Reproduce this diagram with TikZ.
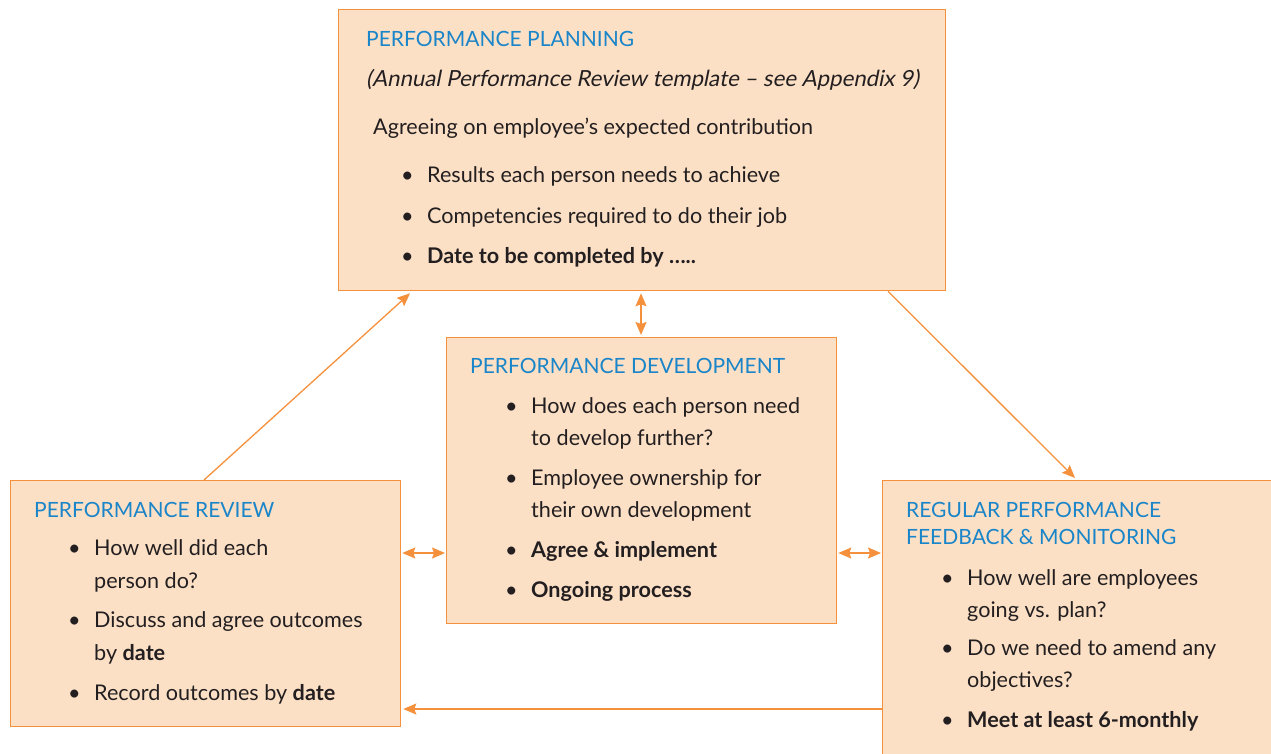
\documentclass[tikz,border=0pt]{standalone}
\usepackage{fontspec}
\setmainfont{Lato}
\newfontfamily\slantfont[FakeSlant=0.2]{Lato}
\usetikzlibrary{arrows.meta}
\definecolor{boxfill}{RGB}{252,224,198}
\definecolor{boxline}{RGB}{245,145,60}
\definecolor{titleblue}{RGB}{26,133,200}
\definecolor{bodytext}{RGB}{35,31,32}
\tikzset{
  box/.style={draw=boxline, fill=boxfill, line width=1.3pt, anchor=north west, inner sep=0pt},
  txt/.style={anchor=base west, inner sep=0pt, text=bodytext, font=\fontsize{21.6}{25}\selectfont},
  ttl/.style={txt, text=titleblue, font=\fontsize{21}{25}\selectfont},
  arr/.style={draw=boxline, line width=1.3pt, -{Stealth[length=13pt,width=11pt,inset=2pt]}},
  darr/.style={draw=boxline, line width=1.3pt, {Stealth[length=13pt,width=11pt,inset=2pt]}-{Stealth[length=13pt,width=11pt,inset=2pt]}},
}
\newcommand\bline[4]{\node[txt] (#1b) at (#2-26,#3) {•}; \node[txt] (#1) at (#2,#3) {#4};}
\begin{document}
\begin{tikzpicture}[x=1pt,y=-1pt]
\useasboundingbox (0,0) rectangle (1271,754);
\fill[white] (0,0) rectangle (1271,754);
\clip (0,0) rectangle (1271,754);
% boxes
\node[box, minimum width=607pt, minimum height=281pt] (plan) at (338,9) {};
\node[box, minimum width=390pt, minimum height=286pt] (dev) at (446,337) {};
\node[box, minimum width=390pt, minimum height=246pt] (rev) at (10,480) {};
\node[box, minimum width=420pt, minimum height=300pt] (fb) at (882,480) {};
% planning text
\node[ttl] (pt) at (366,47) {PERFORMANCE PLANNING};
\node[txt, font=\fontsize{22.2}{26}\selectfont] (pi) at (366,87) {\slantfont (Annual Performance Review template – see Appendix 9)};
\node[txt] (pa) at (373,135) {Agreeing on employee’s expected contribution};
\bline{p1}{427}{183}{Results each person needs to achieve}
\bline{p2}{427}{223}{Competencies required to do their job}
\bline{p3}{427}{263}{\bfseries Date to be completed by …..}
% development text
\node[ttl] (dt) at (470,373) {PERFORMANCE DEVELOPMENT};
\bline{d1}{531}{413}{How does each person need}
\node[txt] (d1c) at (531,445) {to develop further?};
\bline{d2}{531}{485}{Employee ownership for}
\node[txt] (d2c) at (531,517) {their own development};
\bline{d3}{531}{557}{\bfseries Agree \& implement}
\bline{d4}{531}{597}{\bfseries Ongoing process}
% review text
\node[ttl] (rt) at (34,517) {PERFORMANCE REVIEW};
\bline{r1}{94}{555}{How well did each}
\node[txt] (r1c) at (94,588) {person do?};
\bline{r2}{94}{627}{Discuss and agree outcomes}
\node[txt] (r2c) at (94,660) {by \textbf{date}};
\bline{r3}{94}{700}{Record outcomes by \textbf{date}}
% feedback text
\node[ttl] (ft1) at (906,517) {REGULAR PERFORMANCE};
\node[ttl] (ft2) at (906,544) {FEEDBACK \& MONITORING};
\bline{f1}{967}{585}{How well are employees}
\node[txt] (f1c) at (967,617) {going vs. plan?};
\bline{f2}{967}{655}{Do we need to amend any}
\node[txt] (f2c) at (967,687) {objectives?};
\bline{f3}{967}{727}{\bfseries Meet at least 6-monthly}
% connectors
\draw[arr] ([xshift=194pt]rev.north west) -- ([xshift=72pt,yshift=-2pt]plan.south west);
\draw[arr] ([xshift=550pt]plan.south west) -- ([xshift=193pt,yshift=2pt]fb.north west);
\draw[darr] ([xshift=303pt,yshift=-2pt]plan.south west) -- ([xshift=195pt,yshift=2pt]dev.north west);
\draw[darr] ([xshift=1pt]rev.east |- 0,553) -- ([xshift=-1pt]dev.west |- 0,553);
\draw[darr] ([xshift=1pt]dev.east |- 0,553) -- ([xshift=-1pt]fb.west |- 0,553);
\draw[arr] (fb.west |- 0,709) -- ([xshift=2pt]rev.east |- 0,709);
\end{tikzpicture}
\end{document}
